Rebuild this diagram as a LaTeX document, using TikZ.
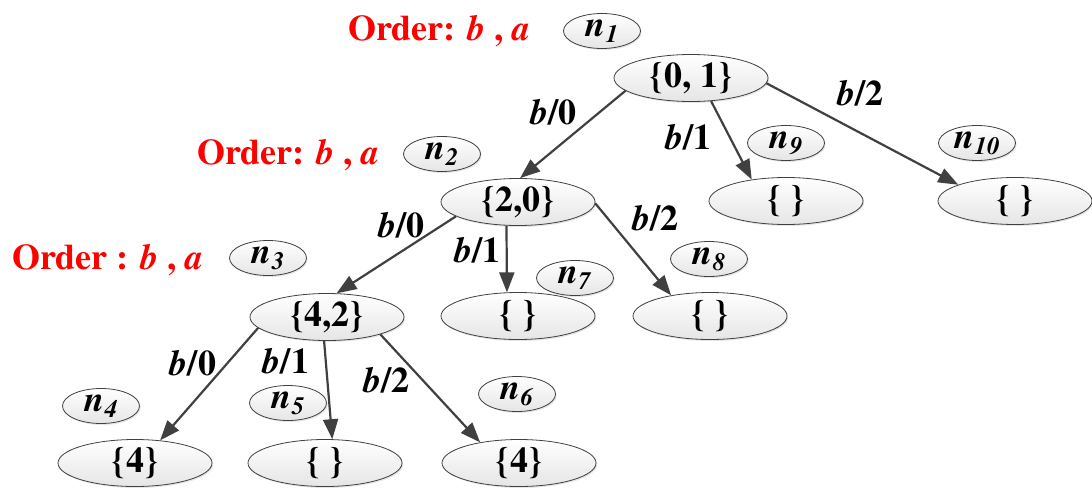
\documentclass[tikz,border=0pt]{standalone}
\usepackage{fontspec}
\setmainfont{texgyretermes}[Extension=.otf, UprightFont=*-regular, BoldFont=*-bold, ItalicFont=*-italic, BoldItalicFont=*-bolditalic]
\usetikzlibrary{shapes.geometric,arrows.meta,shadows}
\definecolor{edgegray}{HTML}{404040}
\definecolor{ordred}{HTML}{FF0000}
\newcommand{\tagtxt}[1]{\textit{n}\raisebox{-0.35ex}{\fontsize{25}{25}\selectfont\textit{#1}}}
\newcommand{\lbl}[1]{\textit{b}/#1}
\begin{document}
\begin{tikzpicture}[x=1pt,y=-1pt,
  bubble/.style={ellipse, draw=black!75, line width=0.8pt, top color=white, bottom color=black!10,
    inner sep=0pt, font=\fontsize{36}{36}\selectfont\bfseries,
    drop shadow={opacity=0.2,shadow xshift=1.2pt,shadow yshift=-1.5pt}},
  setnode/.style={bubble, minimum width=154pt, minimum height=47pt},
  tagnode/.style={bubble, minimum width=77pt, minimum height=35pt},
  edgelbl/.style={font=\fontsize{36}{36}\selectfont\bfseries, inner sep=0pt},
  ordertxt/.style={anchor=base west, text=ordred, font=\fontsize{36}{36}\selectfont\bfseries, inner sep=0pt},
  arr/.style={draw=edgegray, line width=2.2pt, -{Triangle[length=20pt,width=15pt]}, shorten >=0pt}]
\useasboundingbox (0,0) rectangle (1092,490);

% tag ellipses
\node[tagnode] (t1) at (602,31) {\tagtxt{1}};
\node[tagnode] (t2) at (442,154) {\tagtxt{2}};
\node[tagnode] (t3) at (268,258) {\tagtxt{3}};
\node[tagnode] (t4) at (101,406) {\tagtxt{4}};
\node[tagnode] (t5) at (288,403) {\tagtxt{5}};
\node[tagnode] (t6) at (517,394) {\tagtxt{6}};
\node[tagnode] (t7) at (575,278) {\tagtxt{7}};
\node[tagnode] (t8) at (709,259) {\tagtxt{8}};
\node[tagnode] (t9) at (786,143) {\tagtxt{9}};
\node[tagnode] (t10) at (977,143) {\tagtxt{10}};

% set ellipses
\node[setnode] (root) at (691,78) {\{0, 1\}};
\node[setnode] (c2) at (518,202) {\{2,0\}};
\node[setnode] (nine) at (786,201) {\{ \}};
\node[setnode] (ten) at (1015,201) {\{ \}};
\node[setnode] (c3) at (327,317) {\{4,2\}};
\node[setnode] (seven) at (518,316) {\{ \}};
\node[setnode] (eight) at (710,316) {\{ \}};
\node[setnode] (four) at (135,463) {\{4\}};
\node[setnode] (five) at (325,463) {\{ \}};
\node[setnode] (six) at (519,463) {\{4\}};

% order texts
\node[ordertxt] (o1) at (348,40) {Order: \textit{b} , \textit{a}};
\node[ordertxt] (o2) at (197,164) {Order: \textit{b} , \textit{a}};
\node[ordertxt] (o3) at (12,269) {Order : \textit{b} , \textit{a}};

% edges
\draw[arr] (root.191) -- (c2.85);
\draw[arr] (root.-49) -- (nine.148);
\draw[arr] (root.-4) -- (ten.164);
\draw[arr] (c2.193) -- (c3.68);
\draw[arr] (c2.244) -- (seven.115);
\draw[arr] (c2.-1) -- (eight.152);
\draw[arr] (c3.189) -- (four.42);
\draw[arr] (c3.263) -- (five.73);
\draw[arr] (c3.-18) -- (six.152);

% edge labels
\node[edgelbl] (l1) at (553,112) {\lbl{0}};
\node[edgelbl] (l2) at (688,137) {\lbl{1}};
\node[edgelbl] (l3) at (860,93) {\lbl{2}};
\node[edgelbl] (l4) at (401,225) {\lbl{0}};
\node[edgelbl] (l5) at (477,250) {\lbl{1}};
\node[edgelbl] (l6) at (655,218) {\lbl{2}};
\node[edgelbl] (l7) at (193,363) {\lbl{0}};
\node[edgelbl] (l8) at (286,361) {\lbl{1}};
\node[edgelbl] (l9) at (386,380) {\lbl{2}};
\end{tikzpicture}
\end{document}
